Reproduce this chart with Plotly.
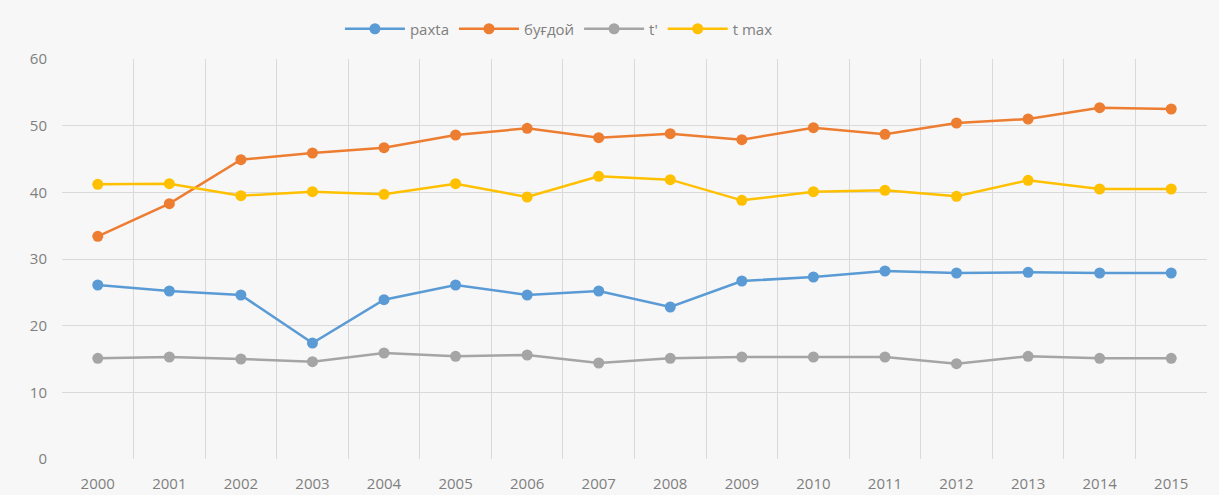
import plotly.graph_objects as go

years = [str(y) for y in range(2000, 2016)]
paxta = [26.1, 25.2, 24.6, 17.4, 23.9, 26.1, 24.6, 25.2, 22.8, 26.7, 27.3, 28.2, 27.9, 28.0, 27.9, 27.9]
bugdoy = [33.4, 38.3, 44.9, 45.9, 46.7, 48.6, 49.6, 48.2, 48.8, 47.9, 49.7, 48.7, 50.4, 51.0, 52.7, 52.5]
t_prime = [15.1, 15.3, 15.0, 14.6, 15.9, 15.4, 15.6, 14.4, 15.1, 15.3, 15.3, 15.3, 14.3, 15.4, 15.1, 15.1]
t_max = [41.2, 41.3, 39.5, 40.1, 39.7, 41.3, 39.3, 42.4, 41.9, 38.8, 40.1, 40.3, 39.4, 41.8, 40.5, 40.5]

series = [
    ("paxta", paxta, "#5B9BD5"),
    ("буғдой", bugdoy, "#ED7D31"),
    ("t'", t_prime, "#A5A5A5"),
    ("t max", t_max, "#FFC000"),
]

fig = go.Figure()
for name, vals, color in series:
    fig.add_trace(go.Scatter(
        x=years, y=vals, name=name, mode="lines+markers",
        line=dict(color=color, width=2.5),
        marker=dict(color=color, size=11),
    ))

fig.update_layout(
    width=1219, height=495,
    margin=dict(l=62, r=12, t=59, b=36, autoexpand=False),
    paper_bgcolor="#F7F7F7",
    plot_bgcolor="#F7F7F7",
    font=dict(family="Open Sans, Liberation Sans, sans-serif", size=15, color="#7F7F7F"),
    showlegend=True,
    legend=dict(
        orientation="h", x=0.434, xanchor="center",
        y=1.075, yanchor="middle",
        itemwidth=60,
        font=dict(size=15, color="#7F7F7F"),
        bgcolor="rgba(0,0,0,0)",
    ),
    xaxis=dict(
        type="category", range=[-0.5, 15.5],
        showgrid=True, gridcolor="#D9D9D9", gridwidth=1,
        tickson="boundaries", ticks="", showline=False, zeroline=False,
        tickfont=dict(size=15, color="#7F7F7F"),
        ticklabelstandoff=14,
    ),
    yaxis=dict(
        range=[0, 60], dtick=10,
        showgrid=True, gridcolor="#D9D9D9", gridwidth=1,
        zeroline=False, showline=False, ticks="",
        tickfont=dict(size=15, color="#7F7F7F"),
        ticklabelstandoff=14,
    ),
)

fig.write_html("out.html")
